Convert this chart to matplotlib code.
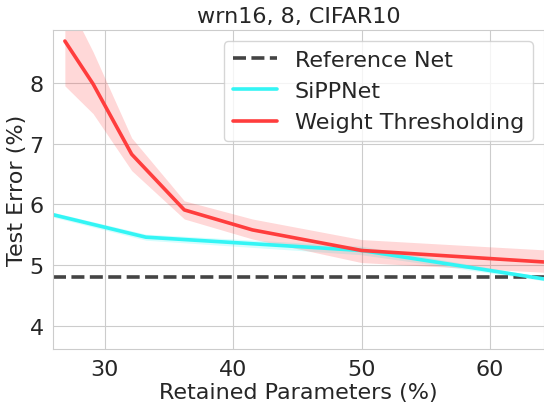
import numpy as np
import matplotlib
matplotlib.use("Agg")
import matplotlib.pyplot as plt
import seaborn as sns

# reference network test error
ref_err = 4.81

# SiPPNet
sipp_x = [26.0, 33.2, 50.0, 64.2]
sipp_y = [5.83, 5.46, 5.24, 4.77]
sipp_lo = [5.79, 5.41, 5.17, 4.74]
sipp_hi = [5.87, 5.51, 5.31, 4.80]

# Weight Thresholding
wt_x = [26.9, 29.1, 32.1, 36.2, 41.5, 50.0, 64.2]
wt_y = [8.70, 7.99, 6.83, 5.91, 5.58, 5.24, 5.05]
wt_lo = [7.96, 7.50, 6.56, 5.76, 5.43, 5.04, 4.88]
wt_hi = [9.45, 8.52, 7.10, 6.06, 5.76, 5.42, 5.25]

sns.set_style("whitegrid")
plt.rcParams['font.family'] = ['DejaVu Sans']

fig = plt.figure(figsize=(5.44, 4.10), dpi=100)
ax = fig.add_axes([0.098, 0.146, 0.902, 0.778])

red = "#ff3d3d"
cyan = "#33f5f5"

ax.axhline(ref_err, color="#444444", ls="--", lw=2.6, dashes=(3.6, 1.5), label="Reference Net")
ax.plot(sipp_x, sipp_y, color=cyan, lw=2.6, label="SiPPNet")
ax.fill_between(sipp_x, sipp_lo, sipp_hi, color=cyan, alpha=0.2, lw=0)
ax.plot(wt_x, wt_y, color=red, lw=2.6, label="Weight Thresholding")
ax.fill_between(wt_x, wt_lo, wt_hi, color=red, alpha=0.2, lw=0)

ax.set_xlim(26.0, 64.2)
ax.set_ylim(3.61, 8.88)
ax.set_xticks([30, 40, 50, 60])
ax.set_yticks([4, 5, 6, 7, 8])
ax.tick_params(labelsize=16, colors="#262626")
ax.set_xlabel("Retained Parameters (%)", fontsize=16, color="#262626", labelpad=2)
ax.set_ylabel("Test Error (%)", fontsize=16, color="#262626", labelpad=2)
ax.set_title("wrn16, 8, CIFAR10", fontsize=16, color="#262626")
ax.legend(loc="upper right", fontsize=16, handlelength=2.0)

fig.savefig("out.png", dpi=100)
